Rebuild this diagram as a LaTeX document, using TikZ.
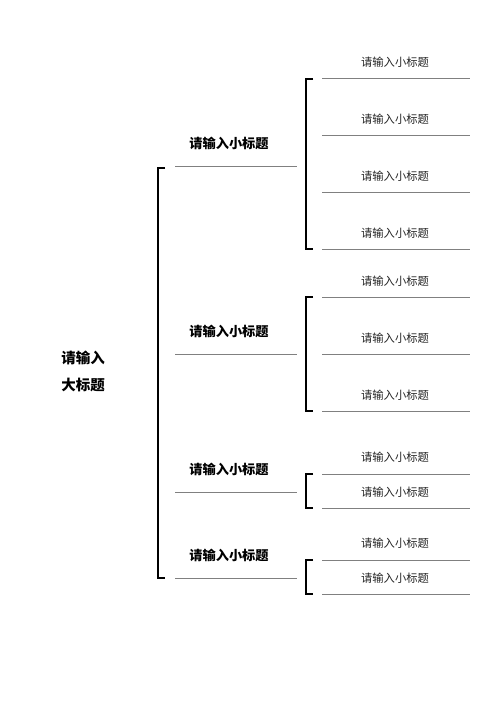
\documentclass[tikz,border=0pt]{standalone}
\usepackage{fontspec}
\setmainfont{Noto Sans CJK SC}
\usetikzlibrary{calc}

\tikzset{
  bigtitle/.style={font=\fontsize{14.5}{27}\selectfont\bfseries, align=left, inner sep=0pt},
  subtitle/.style={font=\fontsize{13.2}{15}\selectfont\bfseries, inner sep=0pt},
  itemtext/.style={font=\fontsize{11.3}{13}\selectfont, text=black!85, inner sep=0pt},
  rule/.style={draw=black!50, line width=0.9pt},
  brace/.style={draw=black, line width=1.4pt},
}

\begin{document}
\begin{tikzpicture}[x=1pt,y=-1pt]
  \useasboundingbox[fill=white] (0,0) rectangle (500,707);

  % big title and main bracket
  \node[bigtitle] (title) at (83,371.5) {请输入\\大标题};
  \coordinate (mtop) at (158,168);
  \coordinate (mbot) at (158,578);
  \draw[brace] ($(mtop)+(7,0)$) -- (mtop) -- (mbot) -- ($(mbot)+(7,0)$);

  % first level
  \node[subtitle] (sub1) at (229,143) {请输入小标题};
  \draw[rule] (175,166) -- (297,166);
  \node[subtitle] (sub2) at (229,331) {请输入小标题};
  \draw[rule] (175,354) -- (297,354);
  \node[subtitle] (sub3) at (229,469) {请输入小标题};
  \draw[rule] (175,492) -- (297,492);
  \node[subtitle] (sub4) at (229,555) {请输入小标题};
  \draw[rule] (175,578) -- (297,578);

  % second level, group one
  \coordinate (atop) at (306,79);
  \coordinate (abot) at (306,249);
  \draw[brace] ($(atop)+(7,0)$) -- (atop) -- (abot) -- ($(abot)+(7,0)$);
  \node[itemtext] (a1) at (395,62) {请输入小标题};
  \draw[rule] (322,78) -- (470,78);
  \node[itemtext] (a2) at (395,119) {请输入小标题};
  \draw[rule] (322,135) -- (470,135);
  \node[itemtext] (a3) at (395,176) {请输入小标题};
  \draw[rule] (322,192) -- (470,192);
  \node[itemtext] (a4) at (395,233) {请输入小标题};
  \draw[rule] (322,249) -- (470,249);

  % second level, group two
  \coordinate (btop) at (306,297);
  \coordinate (bbot) at (306,411);
  \draw[brace] ($(btop)+(7,0)$) -- (btop) -- (bbot) -- ($(bbot)+(7,0)$);
  \node[itemtext] (b1) at (395,281) {请输入小标题};
  \draw[rule] (322,297) -- (470,297);
  \node[itemtext] (b2) at (395,338) {请输入小标题};
  \draw[rule] (322,354) -- (470,354);
  \node[itemtext] (b3) at (395,395) {请输入小标题};
  \draw[rule] (322,411) -- (470,411);

  % second level, group three
  \coordinate (ctop) at (306,474);
  \coordinate (cbot) at (306,508);
  \draw[brace] ($(ctop)+(7,0)$) -- (ctop) -- (cbot) -- ($(cbot)+(7,0)$);
  \node[itemtext] (c1) at (395,457) {请输入小标题};
  \draw[rule] (322,474) -- (470,474);
  \node[itemtext] (c2) at (395,492) {请输入小标题};
  \draw[rule] (322,508) -- (470,508);

  % second level, group four
  \coordinate (dtop) at (306,560);
  \coordinate (dbot) at (306,594);
  \draw[brace] ($(dtop)+(7,0)$) -- (dtop) -- (dbot) -- ($(dbot)+(7,0)$);
  \node[itemtext] (d1) at (395,543) {请输入小标题};
  \draw[rule] (322,560) -- (470,560);
  \node[itemtext] (d2) at (395,578) {请输入小标题};
  \draw[rule] (322,594) -- (470,594);
\end{tikzpicture}
\end{document}
